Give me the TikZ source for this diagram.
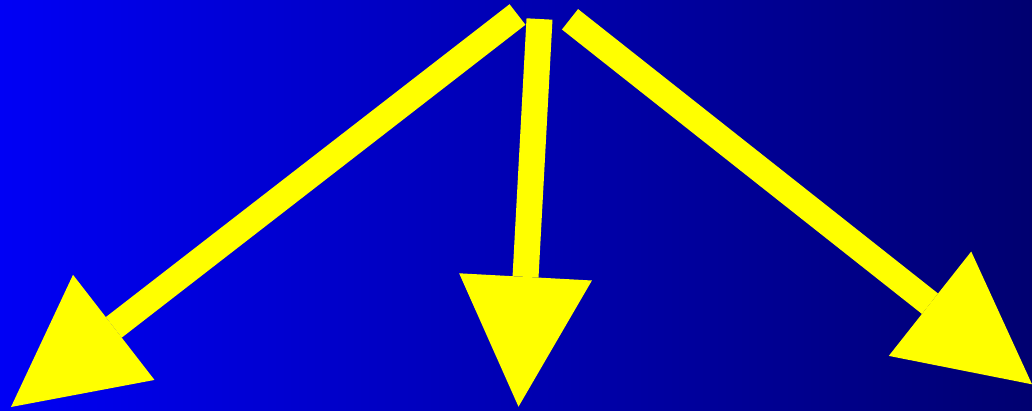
\documentclass[tikz,border=0pt]{standalone}
\usetikzlibrary{arrows.meta}
\definecolor{bgleft}{RGB}{0,0,245}
\definecolor{bgright}{RGB}{0,0,112}
\definecolor{arrowyellow}{RGB}{255,255,0}
\tikzset{
  bigarrow/.style={draw=arrowyellow, line width=26pt, line cap=butt,
    -{Triangle[length=130pt, width=133pt, line width=0pt]}, arrowyellow}
}
\begin{document}
\begin{tikzpicture}[x=1pt, y=-1pt]
  \useasboundingbox (0,0) rectangle (1032,411);
  % background
  \shade[left color=bgleft, right color=bgright] (0,0) rectangle (1032,411);
  % start and end points
  \coordinate (srcleft) at (517.5,14.5);
  \coordinate (srcmid) at (539.5,19);
  \coordinate (srcright) at (570,19.3);
  \coordinate (tipleft) at (11,407);
  \coordinate (tipmid) at (518.5,406.7);
  \coordinate (tipright) at (1032,384.3);
  % arrows
  \draw[bigarrow] (srcleft) -- (tipleft);
  \draw[bigarrow] (srcmid) -- (tipmid);
  \draw[bigarrow] (srcright) -- (tipright);
\end{tikzpicture}
\end{document}
